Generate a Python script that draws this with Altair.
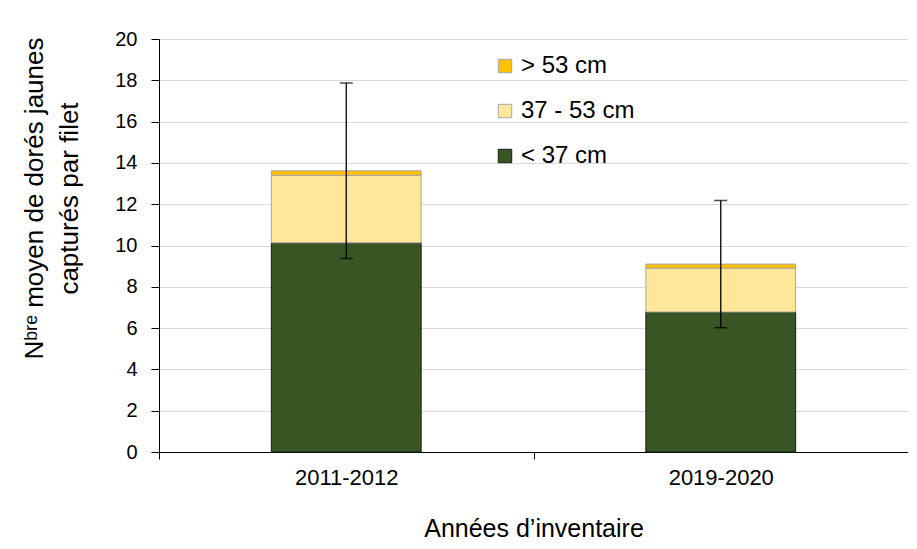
import altair as alt
import pandas as pd

years = ["2011-2012", "2019-2020"]
size_classes = ["\u00a0> 53 cm", "37 - 53 cm", "< 37 cm"]
colors = ["#FFC000", "#FFE699", "#375623"]
strokes = ["#a6a6a6", "#a6a6a6", "#1a1a1a"]
small = [10.13, 6.78]
mid = [3.27, 2.12]
large = [0.22, 0.20]
err = [4.25, 3.08]

rows = []
for i, y in enumerate(years):
    rows.append({"year": y, "cls": size_classes[2], "v": small[i], "ord": 0})
    rows.append({"year": y, "cls": size_classes[1], "v": mid[i], "ord": 1})
    rows.append({"year": y, "cls": size_classes[0], "v": large[i], "ord": 2})
df = pd.DataFrame(rows)

tot = [small[i] + mid[i] + large[i] for i in range(len(years))]
edf = pd.DataFrame({
    "year": years,
    "lo": [tot[i] - err[i] for i in range(len(years))],
    "hi": [tot[i] + err[i] for i in range(len(years))],
})

font = "Liberation Sans"
xenc = alt.X(
    "year:N",
    sort=years,
    scale=alt.Scale(paddingInner=0, paddingOuter=0),
    axis=alt.Axis(
        title="Années d’inventaire", labelAngle=0, tickBand="extent",
        domainColor="#000000", tickColor="#000000", tickSize=7,
        labelFontSize=22, labelPadding=8, labelColor="#000000",
        titleFontSize=25, titleFontWeight="normal", titlePadding=28,
        titleColor="#000000", grid=False,
    ),
)

bars = alt.Chart(df).mark_bar(strokeWidth=1, width={"band": 0.4}).encode(
    x=xenc,
    y=alt.Y(
        "v:Q", stack="zero",
        scale=alt.Scale(domain=[0, 20]),
        axis=alt.Axis(
            title=["Nᵇʳᵉ moyen de dorés jaunes", "capturés par filet"],
            values=list(range(0, 21, 2)), gridColor="#d9d9d9",
            domainColor="#000000", tickColor="#000000", tickSize=8,
            labelFontSize=20, labelPadding=14, labelColor="#000000",
            titleFontSize=26, titleFontWeight="normal",
            titleX=-112, titleY=159,
            titleColor="#000000", titleLineHeight=35,
        ),
    ),
    color=alt.Color(
        "cls:N",
        scale=alt.Scale(domain=size_classes, range=colors),
        legend=alt.Legend(
            title=None, orient="none", legendX=334, legendY=15,
            symbolType="square", symbolSize=180, symbolStrokeColor="#a6a6a6",
            symbolStrokeWidth=1, labelFontSize=24, labelColor="#000000",
            rowPadding=21, labelOffset=4,
        ),
    ),
    stroke=alt.Stroke("cls:N", scale=alt.Scale(domain=size_classes, range=strokes), legend=None),
    order=alt.Order("ord:Q"),
)

rule = alt.Chart(edf).mark_rule(color="#000000", strokeWidth=1.3).encode(
    x=alt.X("year:N", sort=years), y="lo:Q", y2="hi:Q"
)
cap_lo = alt.Chart(edf).mark_tick(color="#000000", size=13, thickness=1.5).encode(
    x=alt.X("year:N", sort=years), y="lo:Q"
)
cap_hi = alt.Chart(edf).mark_tick(color="#000000", size=13, thickness=1.5).encode(
    x=alt.X("year:N", sort=years), y="hi:Q"
)

chart = alt.layer(bars, rule, cap_lo, cap_hi).properties(
    width=749, height=413,
    autosize=alt.AutoSizeParams(type="none"),
    padding={"left": 151, "top": 31, "right": 0, "bottom": 94},
).configure(font=font).configure_view(stroke=None)

chart.save("out.html", embed_options={"renderer": "svg", "actions": False})
